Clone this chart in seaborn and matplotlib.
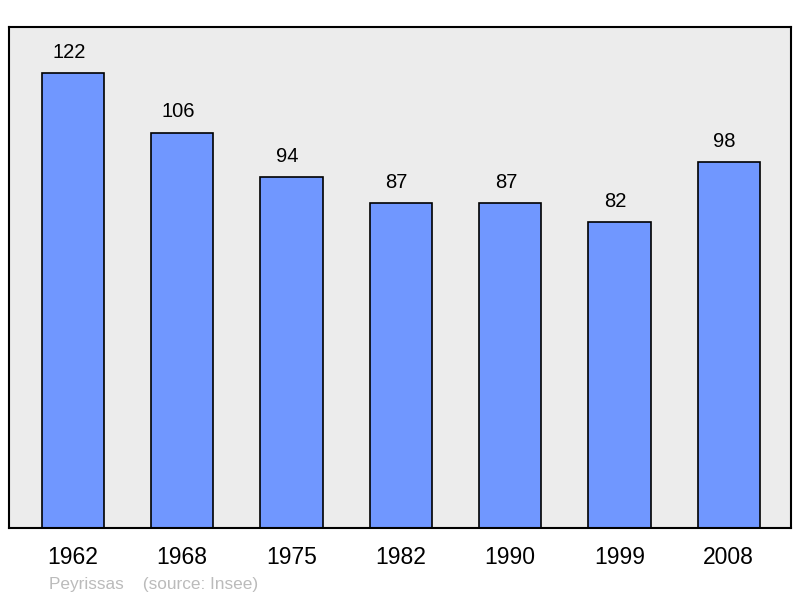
import pandas as pd
import numpy as np
import matplotlib
matplotlib.use('Agg')
import matplotlib.pyplot as plt
import seaborn as sns

years = ['1962', '1968', '1975', '1982', '1990', '1999', '2008']
population = [122, 106, 94, 87, 87, 82, 98]

df = pd.DataFrame({'year': years, 'pop': population})

sns.set_style('white')
plt.rcParams['font.family'] = ['Liberation Sans', 'DejaVu Sans']

fig = plt.figure(figsize=(8, 5.98), dpi=100)
ax = fig.add_axes([9/800, 70/598, 782/800, 501/598])
ax.set_facecolor('#ececec')

sns.barplot(data=df, x='year', y='pop', color='#7097ff', saturation=1,
            edgecolor='black', linewidth=1.2, width=0.57, ax=ax)

# value labels sit a little left of bar centre, as in the original
for i, v in enumerate(population):
    ax.annotate(str(v), (i, v), xytext=(-3, 15), textcoords='offset points',
                ha='center', va='center', fontsize=14.5, color='black')

ax.set_xlim(-0.585, 6.57)
ax.set_ylim(0, 134.3)
ax.set_yticks([])
ax.set_xlabel('')
ax.set_ylabel('')
ax.tick_params(axis='x', length=0, pad=13, labelsize=16.5, labelcolor='black')
for s in ax.spines.values():
    s.set_linewidth(1.5)
    s.set_color('black')

fig.text(49/800, 1 - 584/598, 'Peyrissas    (source: Insee)', color='#bbbbbb',
         fontsize=12.4, va='center', ha='left')

fig.savefig('out.png', dpi=100)
